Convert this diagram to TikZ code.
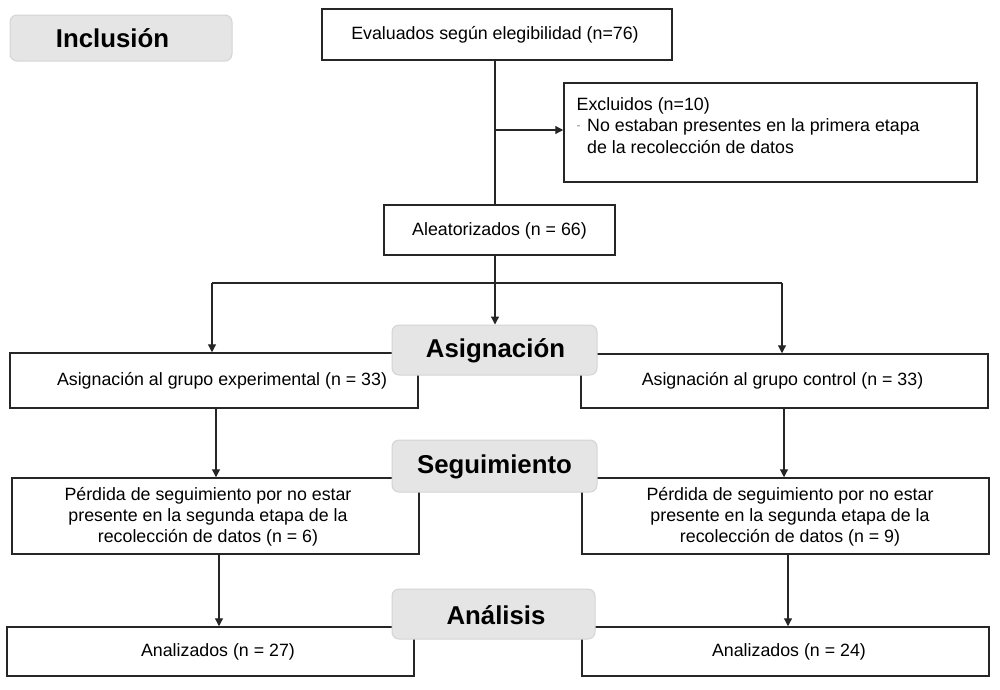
\documentclass[tikz,border=0pt]{standalone}
\usepackage{fontspec}
\setmainfont{Liberation Sans}
\usetikzlibrary{arrows.meta}
\begin{document}
\begin{tikzpicture}[x=1pt,y=1pt,
  box/.style={draw=black!85, line width=1.5pt, inner sep=0pt, fill=white},
  txt/.style={inner sep=0pt, align=center, font=\fontsize{17.8}{21}\selectfont},
  lab/.style={draw=black!17, fill=black!10, rounded corners=7pt, line width=1pt, inner sep=0pt},
  labtxt/.style={inner sep=0pt, font=\fontsize{25.8}{30}\selectfont\bfseries},
  conn/.style={line width=1.2pt, draw=black!85},
  arr/.style={conn, -{Triangle[length=8pt,width=8pt]}}
]
\useasboundingbox (0,0) rectangle (1000,-689);
% boxes
\node[box, minimum width=350, minimum height=51] (eval) at (497,-34.5) {};
\node[txt] (evalt) at (495,-35) {Evaluados según elegibilidad (n=76)};
\node[box, minimum width=413, minimum height=99] (excl) at (770.5,-132.5) {};
\node[txt, align=left, anchor=north west, font=\fontsize{17.8}{21.5}\selectfont] (exclt) at (576.5,-97.2)
  {Excluidos (n=10)\\ \makebox[10.5pt][l]{\textcolor{black!45}{\raisebox{2.5pt}{\fontsize{12}{12}\selectfont -}}}No estaban presentes en la primera etapa\\ \hspace{10.5pt}de la recolección de datos};
\node[box, minimum width=231, minimum height=50] (aleat) at (499.5,-230) {};
\node[txt] (aleatt) at (499.5,-230.5) {Aleatorizados (n = 66)};
\node[box, minimum width=408, minimum height=55] (asigL) at (214,-380.5) {};
\node[txt] (asigLt) at (222,-381) {Asignación al grupo experimental (n = 33)};
\node[box, minimum width=407, minimum height=54] (asigR) at (784.5,-381) {};
\node[txt] (asigRt) at (782.5,-381) {Asignación al grupo control (n = 33)};
\node[box, minimum width=407, minimum height=76] (perdL) at (215.5,-516) {};
\node[txt] (perdLt) at (208,-517) {Pérdida de seguimiento por no estar\\ presente en la segunda etapa de la\\ recolección de datos (n = 6)};
\node[box, minimum width=407, minimum height=76] (perdR) at (785.5,-516) {};
\node[txt] (perdRt) at (790,-517) {Pérdida de seguimiento por no estar\\ presente en la segunda etapa de la\\ recolección de datos (n = 9)};
\node[box, minimum width=407, minimum height=49] (analL) at (210.5,-651.5) {};
\node[txt] (analLt) at (218,-652) {Analizados (n = 27)};
\node[box, minimum width=407, minimum height=49] (analR) at (785.5,-651.5) {};
\node[txt] (analRt) at (789,-652) {Analizados (n = 24)};
% connectors
\coordinate (vx) at (495,0);
\coordinate (bj) at (495,-130);
\coordinate (xl) at (212,-283);
\coordinate (xr) at (782,-283);
\coordinate (a1) at (216,0);
\coordinate (a2) at (219,0);
\coordinate (a3) at (784,0);
\coordinate (a4) at (788,0);
\draw[conn] (eval.south -| vx) -- (aleat.north -| vx);
\draw[arr] (bj) -- (bj -| excl.west);
\draw[conn] (xl) -- (xr);
\draw[arr] (xl) -- (xl |- asigL.north);
\draw[arr] (xr) -- (xr |- asigR.north);
\draw[arr] (a1 |- asigL.south) -- (a1 |- perdL.north);
\draw[arr] (a3 |- asigR.south) -- (a3 |- perdR.north);
\draw[arr] (a2 |- perdL.south) -- (a2 |- analL.north);
\draw[arr] (a4 |- perdR.south) -- (a4 |- analR.north);
% labels
\node[lab, minimum width=222, minimum height=46] (lInc) at (121,-38) {};
\node[labtxt] (lInct) at (112.5,-38.5) {Inclusión};
\node[lab, minimum width=205, minimum height=50] (lAsig) at (494.5,-350) {};
\node[labtxt] (lAsigt) at (495.5,-351) {Asignación};
\node[lab, minimum width=205, minimum height=52] (lSeg) at (494.5,-466) {};
\node[labtxt] (lSegt) at (494.5,-467) {Seguimiento};
\node[lab, minimum width=203, minimum height=50] (lAna) at (493.5,-614) {};
\node[labtxt] (lAnat) at (496,-615) {Análisis};
\draw[arr] (aleat.south -| vx) -- (vx |- lAsig.north);
\end{tikzpicture}
\end{document}
